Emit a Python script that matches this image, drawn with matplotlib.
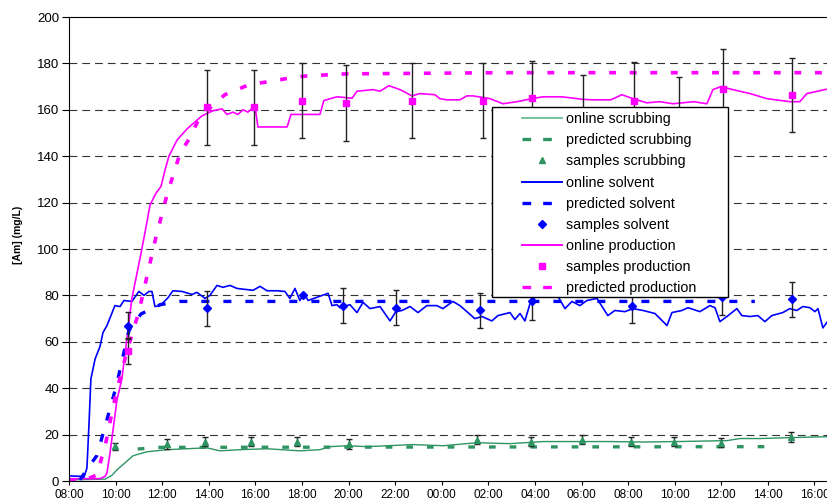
import matplotlib
matplotlib.use('Agg')
import matplotlib.pyplot as plt
from matplotlib.lines import Line2D
from matplotlib.patches import Rectangle

plt.rcParams['font.family'] = ['Liberation Sans', 'DejaVu Sans']

# time axis in hours after 08:00 on the first day
prod_t = [0.00, 1.33, 1.55, 1.63, 1.76, 1.89, 2.06, 2.27, 2.70, 3.05, 3.26, 3.48, 3.73, 3.95,
          4.12, 4.29, 4.64, 5.06, 5.32, 5.71, 6.18, 6.57, 6.78, 7.04, 7.25, 7.47, 7.68, 7.98,
          8.11, 9.36, 9.53, 9.91, 10.77, 10.94, 11.50, 12.15, 12.36, 13.05, 13.35, 13.73,
          14.21, 14.72, 15.06, 15.71, 15.92, 16.22, 16.78, 17.08, 17.34, 18.07, 18.63, 19.23,
          19.87, 20.34, 21.16, 22.06, 22.49, 23.26, 23.73, 24.21, 24.80, 25.36, 25.92, 26.82,
          27.38, 27.64, 27.98, 28.37, 29.23, 29.96, 30.94, 31.37, 31.67, 32.58]
prod_v = [1.0, 1.0, 2.0, 3.5, 12.0, 22.0, 35.0, 44.0, 78.7, 96.0, 107.0, 119.0, 124.0, 127.0,
          134.0, 140.0, 147.0, 151.7, 154.0, 157.4, 159.6, 160.4, 158.0, 159.0, 158.0, 160.0,
          159.0, 161.7, 152.6, 152.6, 158.0, 158.0, 158.0, 164.0, 165.6, 165.0, 168.0, 168.7,
          168.0, 170.4, 168.7, 166.0, 167.0, 166.5, 164.8, 164.3, 164.3, 166.0, 166.0, 164.8,
          162.6, 163.5, 164.8, 165.6, 165.6, 164.5, 164.3, 164.3, 166.5, 164.8, 163.0, 163.5,
          162.6, 163.5, 162.6, 168.7, 170.0, 169.0, 167.0, 164.8, 163.5, 163.5, 167.0, 169.0]

solv_t = [0.00, 0.56, 0.64, 0.77, 0.86, 0.94, 1.12, 1.33, 1.46, 1.63, 1.97, 2.19, 2.36, 2.70,
          3.00, 3.22, 3.43, 3.56, 3.69, 3.91, 4.25, 4.46, 4.85, 5.28, 5.49, 5.84, 6.05, 6.35,
          6.61, 6.91, 7.21, 7.55, 7.90, 8.20, 8.50, 8.93, 9.27, 9.48, 9.70, 9.91, 10.09, 10.26,
          11.12, 11.29, 11.50, 11.63, 12.06, 12.36, 12.62, 12.92, 13.35, 13.78, 14.03, 14.29,
          14.64, 14.98, 15.36, 15.79, 16.05, 16.48, 16.78, 17.08, 17.42, 17.73, 18.15, 18.41,
          18.93, 19.14, 19.36, 19.57, 19.79, 20.21, 20.64, 20.94, 21.29, 21.59, 21.93, 22.23,
          22.66, 23.13, 23.43, 23.86, 24.21, 24.64, 25.15, 25.67, 25.88, 26.31, 26.57, 27.08,
          27.51, 27.73, 27.94, 28.24, 28.67, 28.88, 29.23, 29.57, 29.87, 30.17, 30.64, 30.94,
          31.24, 31.50, 31.80, 32.02, 32.15, 32.36, 32.58]
solv_v = [2.2, 2.0, 1.5, 5.6, 25.0, 44.0, 52.6, 58.0, 64.0, 67.0, 75.6, 75.2, 77.8, 77.4,
          81.7, 80.0, 81.7, 81.7, 75.2, 75.6, 79.0, 82.0, 81.7, 80.4, 81.3, 78.7, 80.0, 84.3,
          83.5, 84.3, 83.0, 82.6, 82.2, 83.9, 82.0, 82.0, 81.7, 78.7, 83.0, 77.8, 80.9, 77.8,
          80.9, 75.6, 76.0, 74.7, 76.0, 72.6, 77.0, 74.3, 75.2, 69.0, 73.0, 73.5, 75.2, 72.6,
          75.6, 75.6, 74.3, 77.4, 75.6, 73.0, 70.0, 70.9, 69.0, 71.3, 72.6, 69.6, 72.2, 69.0,
          76.5, 81.7, 79.6, 80.4, 74.3, 77.4, 75.6, 77.8, 78.7, 71.3, 73.5, 73.0, 74.3, 73.5,
          72.2, 67.0, 72.6, 73.5, 74.7, 73.0, 75.6, 74.7, 68.7, 70.9, 74.3, 71.3, 70.9, 71.3,
          68.7, 71.3, 72.6, 74.3, 73.5, 75.2, 74.7, 73.0, 74.3, 66.0, 69.0]

scrub_t = [0.00, 1.55, 1.85, 2.06, 2.40, 2.75, 3.35, 4.21, 5.06, 5.92, 6.48, 7.34, 8.50,
           9.91, 10.77, 11.20, 11.93, 12.79, 14.76, 16.05, 17.51, 18.93, 20.34, 21.80, 23.22,
           24.64, 26.09, 28.24, 28.80, 29.66, 30.94, 32.58]
scrub_v = [0.5, 0.8, 2.5, 4.8, 7.8, 10.9, 12.6, 13.5, 13.9, 14.3, 13.0, 13.5, 13.9, 13.0,
           13.5, 14.8, 15.2, 14.8, 15.7, 15.2, 16.5, 16.1, 17.0, 17.0, 17.0, 16.8, 17.0, 17.4,
           18.3, 18.3, 18.7, 19.1]

pred_prod_t = [0.00, 0.69, 1.20, 1.59, 1.89, 2.10, 2.49, 3.00, 3.73, 4.21, 4.76, 5.19, 5.62,
               6.69, 7.77, 8.50, 9.36, 10.21, 11.93, 14.76, 18.50, 32.58]
pred_prod_v = [0.0, 0.5, 2.6, 17.0, 31.7, 41.0, 56.0, 73.0, 105.0, 123.5, 141.0, 148.0, 157.0,
               166.5, 171.0, 172.0, 173.5, 174.6, 175.5, 175.7, 176.0, 176.0]

pred_solv_t = [0.47, 0.77, 1.20, 1.63, 2.06, 2.23, 2.58, 3.09, 3.91, 4.76, 29.44]
pred_solv_v = [0.5, 5.0, 11.0, 26.5, 42.0, 50.0, 65.0, 72.0, 76.0, 77.4, 77.4]

pred_scrub_t = [2.95, 3.91, 30.0]
pred_scrub_v = [13.8, 14.5, 14.8]

samp_prod_t = [2.53, 5.92, 7.94, 10.00, 11.89, 14.72, 17.77, 19.87, 22.06, 24.25, 26.18, 28.07, 31.03]
samp_prod_v = [56.0, 161.0, 161.0, 164.0, 163.0, 164.0, 164.0, 165.0, 159.0, 164.0, 158.0, 169.0, 166.5]
samp_prod_e = [5.5, 16.0, 16.0, 16.0, 16.5, 16.0, 16.0, 16.0, 16.0, 16.5, 16.0, 17.0, 16.0]

samp_solv_t = [2.53, 5.92, 10.04, 11.76, 14.03, 17.64, 19.87, 24.16, 28.03, 31.03]
samp_solv_v = [67.0, 74.5, 80.0, 75.6, 74.7, 73.5, 77.4, 75.6, 79.5, 78.3]
samp_solv_e = [6.0, 7.5, 0.0, 7.5, 7.5, 7.5, 8.0, 7.5, 8.0, 7.5]

samp_scrub_t = [1.97, 4.21, 5.84, 7.81, 9.79, 12.02, 17.51, 19.83, 22.02, 24.12, 25.97, 27.98, 30.99]
samp_scrub_v = [15.0, 16.0, 17.0, 17.0, 17.0, 16.0, 17.8, 17.0, 17.8, 17.0, 17.0, 16.5, 19.0]
samp_scrub_e = [1.5, 2.0, 2.0, 2.0, 2.0, 2.0, 2.0, 2.0, 2.0, 2.0, 2.0, 2.0, 2.0]

tick_hours = list(range(0, 34, 2))
tick_labels = ['%02d:00' % ((8 + h) % 24) for h in tick_hours]

GREEN = '#2e9462'
GREEN_L = '#5cb887'
BLUE = '#0000ff'
MAG = '#ff00ff'

DASH_G = (0, (2.0, 4.2))
DASH_B = (0, (2.4, 4.2))
DASH_M = (0, (1.9, 3.8))

fig = plt.figure(figsize=(8.28, 5.03), dpi=100)
ax = fig.add_axes([69 / 828, 22 / 503, 1 - 69 / 828, 464 / 503])

ax.set_xlim(0, 32.58)
ax.set_ylim(0, 200)
ax.set_yticks(range(0, 201, 20))
ax.set_xticks(tick_hours)
ax.set_xticklabels(tick_labels)
ax.tick_params(axis='y', direction='out', length=5, labelsize=9.5, pad=2)
ax.tick_params(axis='x', direction='out', length=3, labelsize=8.5, pad=3)
for y in range(20, 200, 20):
    ax.axhline(y, color='#333333', lw=0.8, ls=(0, (7, 4.5)), zorder=1)
ax.spines['right'].set_visible(False)
ax.set_ylabel('[Am] (mg/L)', fontsize=7.5, fontweight='bold')
ax.yaxis.set_label_coords(-0.06, 0.53)

# online signals
ax.plot(scrub_t, scrub_v, color=GREEN, lw=1.0, zorder=2)
ax.plot(solv_t, solv_v, color=BLUE, lw=1.2, zorder=2)
ax.plot(prod_t, prod_v, color=MAG, lw=1.2, zorder=2)

# predictions
ax.plot(pred_scrub_t, pred_scrub_v, color=GREEN, lw=2.4, ls=DASH_G, zorder=2)
ax.plot(pred_solv_t, pred_solv_v, color=BLUE, lw=2.4, ls=DASH_B, zorder=2)
ax.plot(pred_prod_t, pred_prod_v, color=MAG, lw=2.6, ls=DASH_M, zorder=2)

# samples with error bars
err_kw = dict(fmt='none', ecolor='#222222', elinewidth=1.0, capsize=2.3, capthick=1.0, zorder=3)
ax.errorbar(samp_scrub_t, samp_scrub_v, yerr=samp_scrub_e, **err_kw)
ax.errorbar(samp_solv_t, samp_solv_v, yerr=samp_solv_e, **err_kw)
ax.errorbar(samp_prod_t, samp_prod_v, yerr=samp_prod_e, **err_kw)
ax.plot(samp_scrub_t, samp_scrub_v, ls='none', marker='^', ms=5, color=GREEN, zorder=3.5)
ax.plot(samp_solv_t, samp_solv_v, ls='none', marker='D', ms=4.5, color=BLUE, zorder=3.5)
ax.plot(samp_prod_t, samp_prod_v, ls='none', marker='s', ms=5, color=MAG, zorder=3.5)

# legend box
ax.add_patch(Rectangle((0.557, 0.397), 0.311, 0.409, transform=ax.transAxes,
                       facecolor='white', edgecolor='black', lw=1.0, zorder=4.5))
handles = [
    Line2D([], [], color=GREEN_L, lw=1.2),
    Line2D([], [], color=GREEN, lw=2.4, ls=(0, (2.6, 3.6))),
    Line2D([], [], color=GREEN, ls='none', marker='^', ms=5),
    Line2D([], [], color=BLUE, lw=1.4),
    Line2D([], [], color=BLUE, lw=2.4, ls=(0, (2.6, 3.6))),
    Line2D([], [], color=BLUE, ls='none', marker='D', ms=4.5),
    Line2D([], [], color=MAG, lw=1.4),
    Line2D([], [], color=MAG, ls='none', marker='s', ms=5),
    Line2D([], [], color=MAG, lw=2.4, ls=(0, (2.6, 3.6))),
]
labels = ['online scrubbing', 'predicted scrubbing', 'samples scrubbing',
          'online solvent', 'predicted solvent', 'samples solvent',
          'online production', 'samples production', 'predicted production']
leg = ax.legend(handles, labels, loc='upper left', bbox_to_anchor=(0.597, 0.795),
                frameon=False, fontsize=10.3, borderpad=0, borderaxespad=0,
                labelspacing=0.5, handlelength=2.8, handletextpad=0.3)
leg.set_zorder(6)

fig.savefig('out.png', dpi=100)
